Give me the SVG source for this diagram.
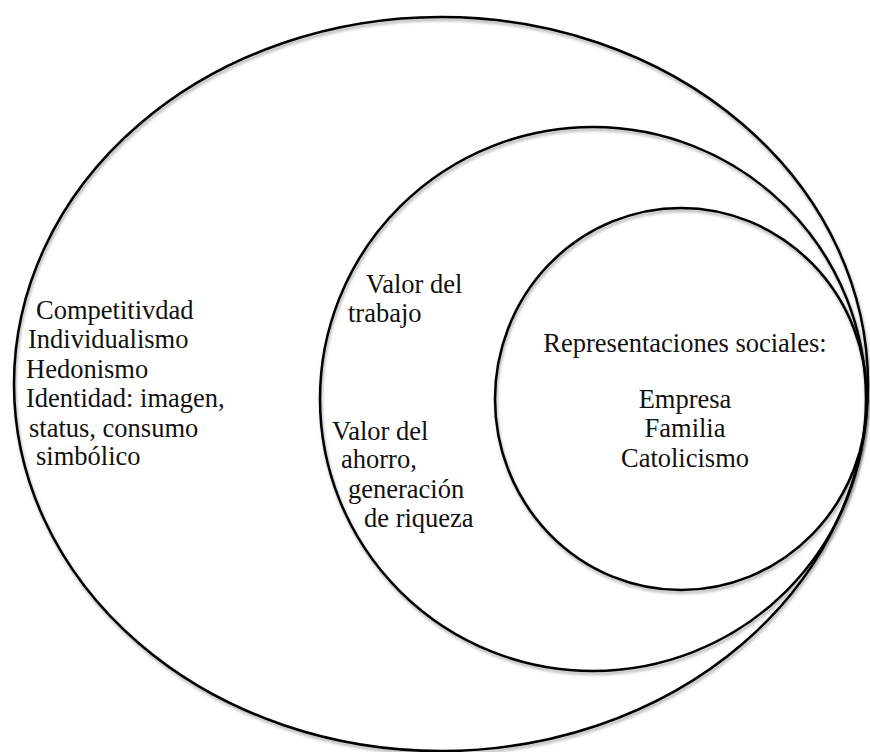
<svg xmlns="http://www.w3.org/2000/svg" width="870" height="752" viewBox="0 0 870 752">
<defs>
<style>
.ring{fill:none;stroke:#000;stroke-width:2.5;filter:url(#sh)}
.t{font-family:'Liberation Serif','Times New Roman','DejaVu Serif',serif;font-size:26.5px;fill:#111}
.c{text-anchor:middle}
</style>
<filter id="sh" x="-5%" y="-5%" width="110%" height="110%">
<feDropShadow dx="1" dy="2.5" stdDeviation="1.5" flood-color="#000" flood-opacity="0.35"/>
</filter>
</defs>
<rect width="870" height="752" fill="#fff"/>
<g id="outer" font-family="Liberation Serif, serif">
<ellipse class="ring" cx="441" cy="384" rx="427" ry="367"/>
<text class="t" x="36" y="319">Competitivdad</text>
<text class="t" x="28" y="348">Individualismo</text>
<text class="t" x="26" y="378">Hedonismo</text>
<text class="t" x="26" y="407">Identidad: imagen,</text>
<text class="t" x="29" y="437">status, consumo</text>
<text class="t" x="36" y="465">simbólico</text>
</g>
<g id="middle" font-family="Liberation Serif, serif">
<ellipse class="ring" cx="593" cy="399" rx="273" ry="272"/>
<text class="t" x="366" y="293">Valor del</text>
<text class="t" x="348" y="322">trabajo</text>
<text class="t" x="332" y="440">Valor del</text>
<text class="t" x="341" y="468">ahorro,</text>
<text class="t" x="348" y="498">generación</text>
<text class="t" x="364" y="527">de riqueza</text>
</g>
<g id="inner" font-family="Liberation Serif, serif">
<ellipse class="ring" cx="681" cy="399" rx="186" ry="191"/>
<text class="t c" x="685" y="352">Representaciones sociales:</text>
<text class="t c" x="685" y="408">Empresa</text>
<text class="t c" x="685" y="437">Familia</text>
<text class="t c" x="685" y="467">Catolicismo</text>
</g>
<g id="connectors"/>
</svg>
